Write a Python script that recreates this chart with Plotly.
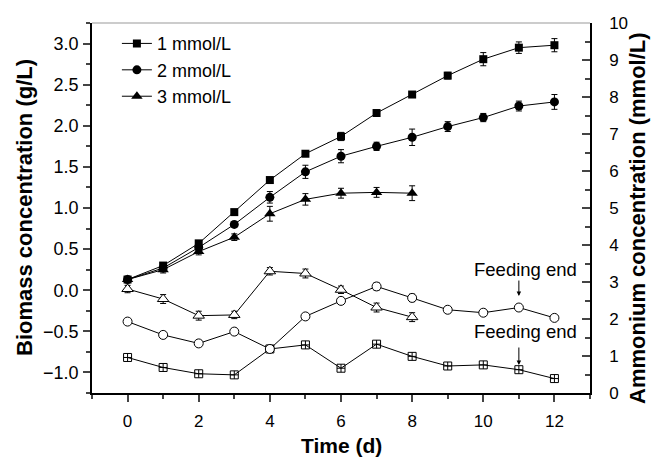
import plotly.graph_objects as go

time = list(range(13))

# Biomass concentration (g/L), left axis
bio_1 = [0.13, 0.30, 0.57, 0.95, 1.34, 1.66, 1.87, 2.155, 2.38, 2.61, 2.81, 2.95, 2.98]
bio_1_err = [0.02, 0.03, 0.03, 0.03, 0.03, 0.03, 0.05, 0.03, 0.03, 0.04, 0.08, 0.07, 0.08]
bio_2 = [0.13, 0.27, 0.52, 0.80, 1.13, 1.44, 1.63, 1.75, 1.86, 1.99, 2.10, 2.24, 2.29]
bio_2_err = [0.02, 0.03, 0.03, 0.03, 0.07, 0.08, 0.08, 0.05, 0.10, 0.06, 0.05, 0.06, 0.09]
time_3 = list(range(9))
bio_3 = [0.13, 0.25, 0.47, 0.645, 0.93, 1.105, 1.18, 1.19, 1.18]
bio_3_err = [0.03, 0.04, 0.04, 0.04, 0.09, 0.07, 0.06, 0.06, 0.09]

# Ammonium concentration (mmol/L), right axis
amm_1 = [0.96, 0.69, 0.52, 0.49, 1.19, 1.30, 0.67, 1.32, 0.99, 0.73, 0.76, 0.63, 0.39]
amm_2 = [1.93, 1.57, 1.34, 1.66, 1.19, 2.07, 2.49, 2.88, 2.57, 2.25, 2.17, 2.31, 2.03]
amm_2_err = [0.02, 0.08, 0.08, 0.08, 0.08, 0.06, 0.08, 0.10, 0.10, 0.08, 0.08, 0.05, 0.05]
amm_3 = [2.81, 2.54, 2.09, 2.11, 3.29, 3.23, 2.79, 2.31, 2.05]
amm_3_err = [0.10, 0.12, 0.12, 0.10, 0.10, 0.12, 0.10, 0.12, 0.12]

labels = ["1 mmol/L", "2 mmol/L", "3 mmol/L"]
left_ticks = [-1.0, -0.5, 0.0, 0.5, 1.0, 1.5, 2.0, 2.5, 3.0]
right_ticks = list(range(11))
x_ticks = list(range(0, 13, 2))

# "Feeding end" annotations: (text y, arrow tail y, arrow tip y) in right-axis units at x = feed_x
feed_x = 11
feed_text = "Feeding end"
feed_upper = (3.33, 3.08, 2.62)
feed_lower = (1.66, 1.27, 0.76)

FONT = "Liberation Sans, Arial, sans-serif"
line = dict(color="black", width=1)


def err(arr):
    return dict(type="data", array=arr, visible=True, color="black", thickness=1, width=3)


fig = go.Figure()
fig.add_trace(go.Scatter(x=time, y=bio_1, name=labels[0], mode="lines+markers", line=line,
                         marker=dict(symbol="square", size=8, color="black"), error_y=err(bio_1_err)))
fig.add_trace(go.Scatter(x=time, y=bio_2, name=labels[1], mode="lines+markers", line=line,
                         marker=dict(symbol="circle", size=9, color="black"), error_y=err(bio_2_err)))
fig.add_trace(go.Scatter(x=time_3, y=bio_3, name=labels[2], mode="lines+markers", line=line,
                         marker=dict(symbol="triangle-up", size=10, color="black"), error_y=err(bio_3_err)))

open_marker = dict(color="white", line=dict(color="black", width=1))
fig.add_trace(go.Scatter(x=time, y=amm_1, yaxis="y2", mode="lines+markers", line=line, showlegend=False,
                         marker=dict(symbol="square-cross-open", size=8, color="black", line=dict(width=1))))
fig.add_trace(go.Scatter(x=time, y=amm_2, yaxis="y2", mode="lines+markers", line=line, showlegend=False,
                         marker=dict(symbol="circle", size=9, **open_marker), error_y=err(amm_2_err)))
fig.add_trace(go.Scatter(x=time_3, y=amm_3, yaxis="y2", mode="lines+markers", line=line, showlegend=False,
                         marker=dict(symbol="triangle-up", size=10, **open_marker), error_y=err(amm_3_err)))

for ty, tail, tip in [feed_upper, feed_lower]:
    fig.add_annotation(x=feed_x, y=tip, ax=feed_x, ay=tail, xref="x", yref="y2", axref="x", ayref="y2",
                       text="", showarrow=True, arrowhead=2, arrowsize=0.9, arrowwidth=1, arrowcolor="black")
    fig.add_annotation(x=feed_x + 0.2, y=ty, xref="x", yref="y2", text=feed_text, showarrow=False,
                       font=dict(family=FONT, size=18.5, color="black"))

title_font = dict(family=FONT, size=22, color="black")
fig.add_annotation(x=0, y=0.5, xref="paper", yref="paper", text="<b>Biomass concentration (g/L)</b>",
                   textangle=-90, showarrow=False, xanchor="center", yanchor="middle",
                   xshift=24 - 92, font=title_font)
fig.add_annotation(x=1, y=0.5, xref="paper", yref="paper", text="<b>Ammonium concentration (mmol/L)</b>",
                   textangle=-90, showarrow=False, xanchor="center", yanchor="middle",
                   xshift=637 - 590, yshift=-10, font=title_font)
fig.add_annotation(x=0.5, y=0, xref="paper", yref="paper", text="<b>Time (d)</b>",
                   showarrow=False, xanchor="center", yanchor="middle", yshift=-(445 - 393),
                   font=dict(family=FONT, size=21, color="black"))

fig.add_shape(type="line", xref="paper", yref="paper", x0=0, x1=1, y0=1, y1=1,
              line=dict(color="#999999", width=1))

fig.update_layout(
    width=661, height=457,
    margin=dict(l=92, r=71, t=23, b=64, autoexpand=False),
    paper_bgcolor="white", plot_bgcolor="white",
    font=dict(family=FONT, size=17, color="black"),
    showlegend=True,
    legend=dict(x=0.05, y=0.994, xanchor="left", yanchor="top", bgcolor="rgba(0,0,0,0)",
                font=dict(family=FONT, size=18), tracegroupgap=0),
    xaxis=dict(range=[-1, 13], tickvals=x_ticks, ticks="outside", ticklen=7, tickwidth=1.5,
               tickfont=dict(size=17), ticklabelstandoff=5,
               showline=True, linecolor="black", linewidth=1.5, showgrid=False, zeroline=False,
               minor=dict(dtick=1, tick0=0, ticks="outside", ticklen=4, tickwidth=1.5, showgrid=False)),
    yaxis=dict(range=[-1.25, 3.25], tickvals=left_ticks, tickformat=".1f", ticks="outside", ticklen=7,
               tickwidth=1.5, tickfont=dict(size=18), ticklabelstandoff=1,
               showline=True, linecolor="black", linewidth=1.5, showgrid=False, zeroline=False,
               minor=dict(dtick=0.25, tick0=0, ticks="outside", ticklen=4, tickwidth=1.5, showgrid=False)),
    yaxis2=dict(range=[0, 10], tickvals=right_ticks, overlaying="y", side="right", ticks="inside", ticklen=8,
                tickwidth=1.5, tickfont=dict(size=17), ticklabelstandoff=14,
                showline=True, linecolor="black", linewidth=1.5, showgrid=False, zeroline=False,
                minor=dict(dtick=0.5, tick0=0, ticks="inside", ticklen=5, tickwidth=1.5, showgrid=False)),
)

fig.write_html("out.html", config={"displayModeBar": False},
               post_script="document.body.style.margin='0px';document.body.style.overflow='hidden';")
